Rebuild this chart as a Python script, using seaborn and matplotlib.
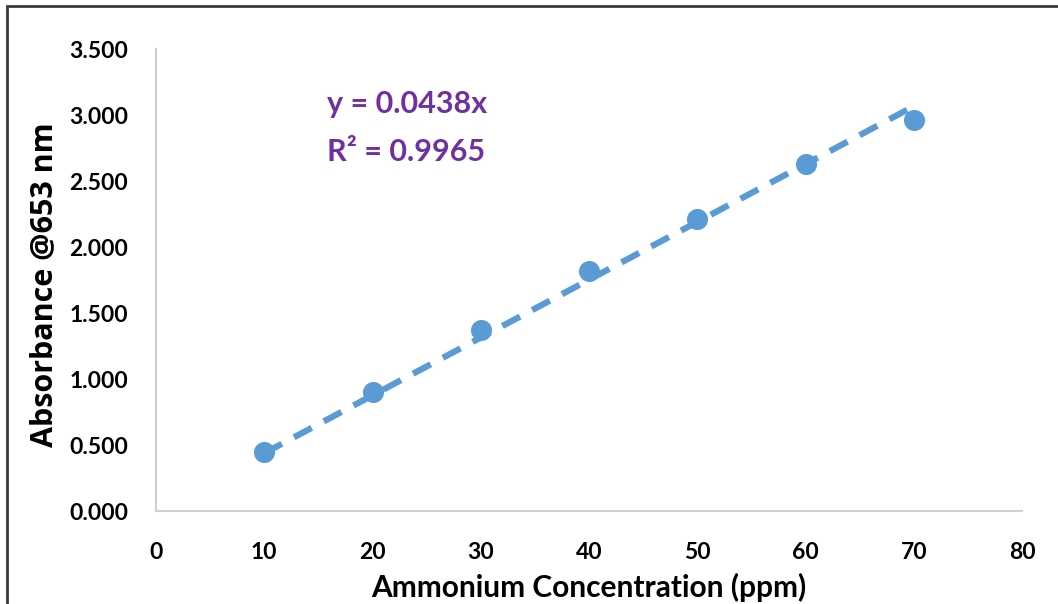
import matplotlib
matplotlib.use("Agg")
import matplotlib.pyplot as plt
import seaborn as sns
import numpy as np
import pandas as pd
from matplotlib.patches import Rectangle

concentration = [10, 20, 30, 40, 50, 60, 70]
absorbance = [0.447, 0.905, 1.375, 1.815, 2.215, 2.630, 2.965]
slope = 0.0438
r2 = 0.9965
x_ticks = [0, 10, 20, 30, 40, 50, 60, 70, 80]
y_ticks = [0.0, 0.5, 1.0, 1.5, 2.0, 2.5, 3.0, 3.5]

sns.set_theme(style="white")
plt.rcParams['font.family'] = ['Lato', 'DejaVu Sans']

df = pd.DataFrame({"conc": concentration, "abs": absorbance})
trend_x = np.array([concentration[0], concentration[-1]])
trend = pd.DataFrame({"conc": trend_x, "abs": slope * trend_x})

fig = plt.figure(figsize=(10.58, 6.04), dpi=100)
ax = fig.add_axes([156/1058, 1 - 511/604, (1022-156)/1058, (511-49)/604])

blue = "#5B9BD5"
sns.lineplot(data=trend, x="conc", y="abs", ax=ax, color=blue, lw=4.5,
             linestyle=(0, (3.2, 2.2)), zorder=2)
sns.scatterplot(data=df, x="conc", y="abs", ax=ax, color=blue, s=230,
                edgecolor=blue, linewidth=0, zorder=3)

ax.set_xlim(0, 80)
ax.set_ylim(0, 3.5)
ax.set_xticks(x_ticks)
ax.set_yticks(y_ticks)
ax.set_xticklabels([str(t) for t in x_ticks], fontsize=16.5, fontweight="bold")
ax.set_yticklabels([f"{t:.3f}" for t in y_ticks], fontsize=16.5, fontweight="bold")
ax.tick_params(axis="x", length=0, pad=22, colors="black")
ax.tick_params(axis="y", length=0, pad=20, colors="black")

for s in ["top", "right"]:
    ax.spines[s].set_visible(False)
for s in ["left", "bottom"]:
    ax.spines[s].set_color("#D0D0D0")
    ax.spines[s].set_linewidth(1.5)

ax.set_xlabel("Ammonium Concentration (ppm)", fontsize=21.5, fontweight="bold",
              color="black")
ax.xaxis.set_label_coords(0.5, -0.135)
ax.set_ylabel("Absorbance @653 nm", fontsize=22, fontweight="bold",
              family=["Open Sans", "DejaVu Sans"], color="black")
ax.yaxis.set_label_coords(-0.112, 0.49)
ax.grid(False)

ax.text(15.8, 3.08, f"y = {slope}x", fontsize=22, fontweight="bold",
        color="#7030A0", va="center", ha="left")
ax.text(15.8, 2.72, f"R² = {r2}", fontsize=22, fontweight="bold",
        color="#7030A0", va="center", ha="left")

fig.patches.append(Rectangle((7/1058, -0.1), 1.2, 1 - 6/604 + 0.1,
                             transform=fig.transFigure, fill=False,
                             edgecolor="#3a3a3a", linewidth=2, zorder=10))

fig.savefig("out.png", dpi=100)
